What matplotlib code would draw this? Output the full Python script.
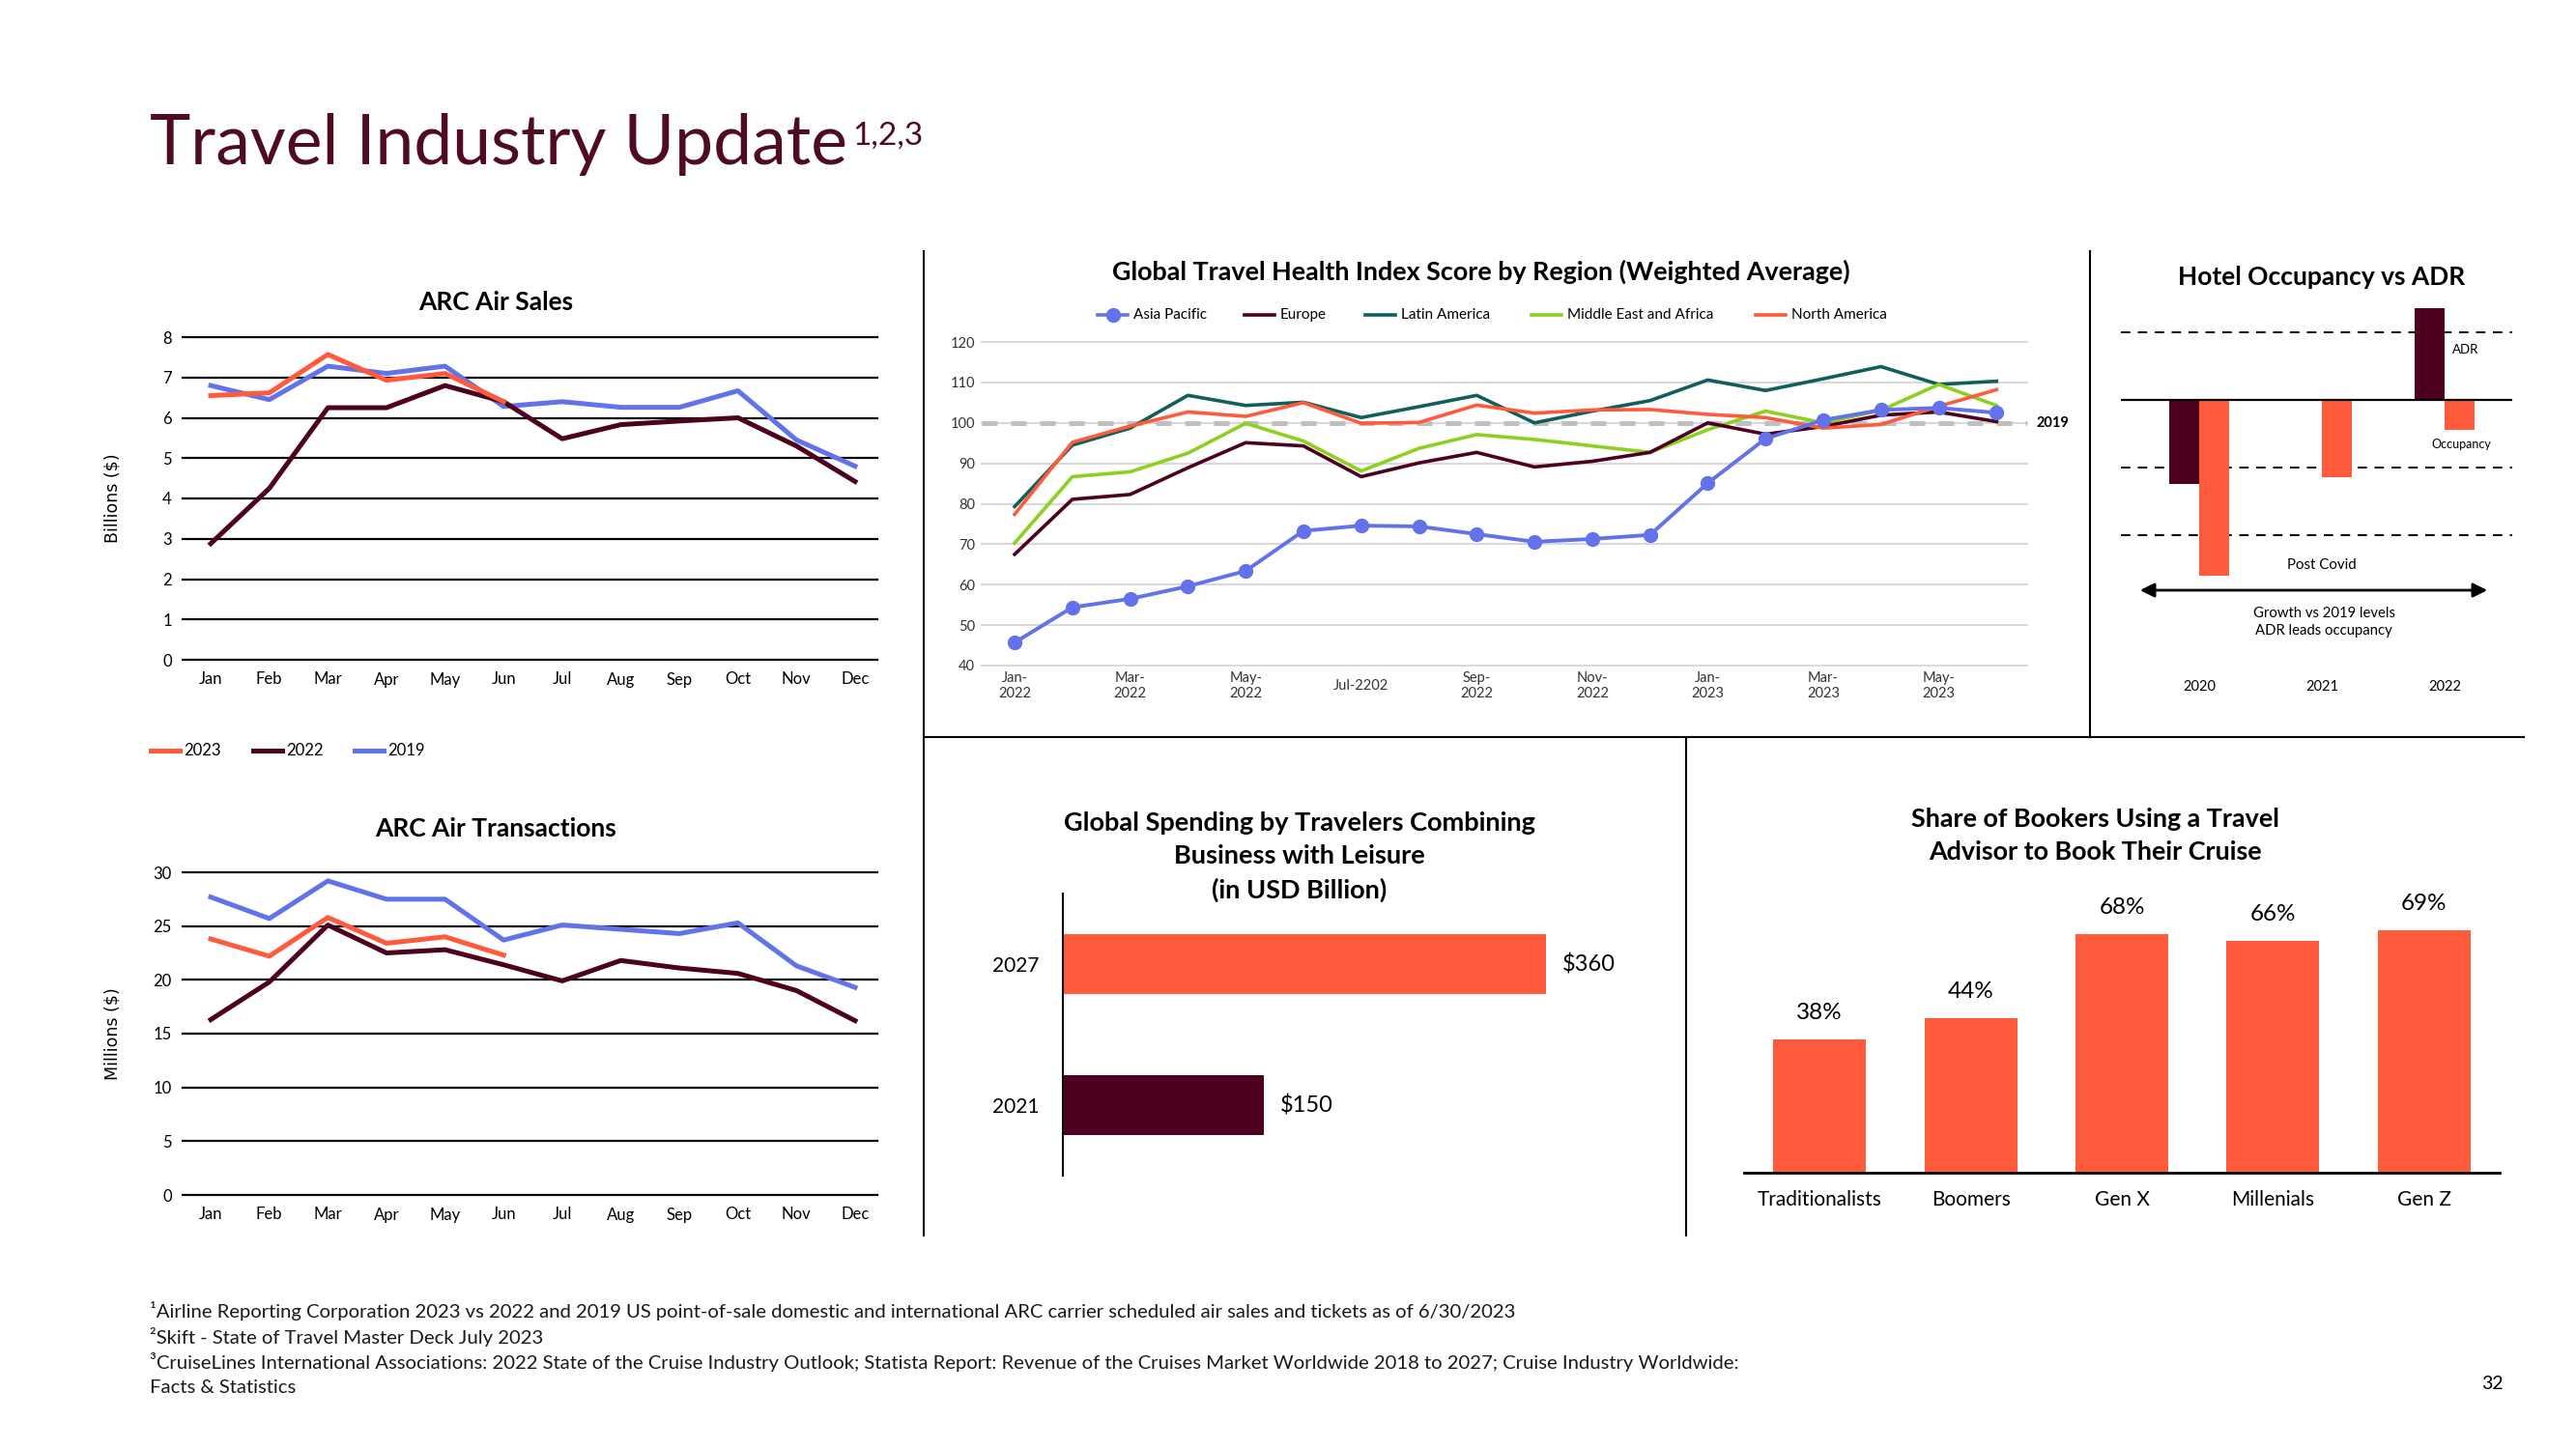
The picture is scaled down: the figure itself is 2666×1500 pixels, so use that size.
import matplotlib
matplotlib.use("Agg")
import matplotlib.pyplot as plt
from matplotlib.lines import Line2D
from matplotlib.transforms import blended_transform_factory

plt.rcParams['font.family'] = ['Lato', 'DejaVu Sans']

W, H = 2666, 1500
TITLE = '#4F0A24'
MAROON = '#4D0020'
ORANGE = '#FF5A3C'
BLUE = '#6272EA'
TEAL = '#115E5F'
LIME = '#8DD01F'

# ARC air sales / transactions
months = ['Jan', 'Feb', 'Mar', 'Apr', 'May', 'Jun', 'Jul', 'Aug', 'Sep', 'Oct', 'Nov', 'Dec']
sales_2023 = [6.55, 6.62, 7.57, 6.93, 7.10, 6.40]
sales_2022 = [2.88, 4.25, 6.25, 6.25, 6.80, 6.40, 5.48, 5.83, 5.92, 6.00, 5.30, 4.42]
sales_2019 = [6.80, 6.45, 7.28, 7.10, 7.28, 6.28, 6.40, 6.26, 6.26, 6.67, 5.45, 4.80]
trans_2023 = [23.8, 22.2, 25.8, 23.4, 24.0, 22.3]
trans_2022 = [16.3, 19.8, 25.1, 22.5, 22.8, 21.4, 19.9, 21.8, 21.1, 20.6, 19.0, 16.2]
trans_2019 = [27.7, 25.7, 29.2, 27.5, 27.5, 23.7, 25.1, 24.7, 24.3, 25.3, 21.3, 19.3]

# travel health index, Jan-2022 .. Jun-2023
hi_ticks = [0, 2, 4, 6, 8, 10, 12, 14, 16]
hi_labels = ['Jan-\n2022', 'Mar-\n2022', 'May-\n2022', 'Jul-2202', 'Sep-\n2022',
             'Nov-\n2022', 'Jan-\n2023', 'Mar-\n2023', 'May-\n2023']
asia = [45.7, 54.4, 56.5, 59.6, 63.4, 73.3, 74.6, 74.4, 72.5, 70.6, 71.3, 72.3, 85.1, 96.1, 100.7, 103.2, 103.7, 102.5]
europe = [67.5, 81.1, 82.3, 88.9, 95.1, 94.3, 86.7, 90.1, 92.7, 89.1, 90.5, 92.7, 100.0, 97.2, 99.1, 101.9, 102.7, 100.3]
latin = [79.3, 94.5, 98.7, 106.8, 104.3, 105.1, 101.3, 104.0, 106.8, 100.0, 102.9, 105.5, 110.6, 108.0, 110.9, 113.9, 109.5, 110.3]
mea = [70.3, 86.7, 87.9, 92.5, 99.9, 95.5, 88.1, 93.7, 97.1, 95.9, 94.3, 92.7, 98.3, 102.9, 100.0, 103.1, 109.5, 104.3]
north = [77.4, 95.2, 99.2, 102.7, 101.6, 105.0, 99.9, 100.1, 104.4, 102.4, 103.2, 103.3, 102.1, 101.3, 98.7, 99.6, 104.1, 108.2]

# hotel occupancy vs ADR (growth vs 2019, %)
hotel_years = ['2020', '2021', '2022']
adr_growth = [-25, 0, 27]
occ_growth = [-52, -23, -9]
ref_levels = [20, -20, -40]

# bleisure spending
spend_years = ['2021', '2027']
spend_values = [150, 360]

# share of bookers using an advisor
generations = ['Traditionalists', 'Boomers', 'Gen X', 'Millenials', 'Gen Z']
share_pct = [38, 44, 68, 66, 69]

fig = plt.figure(figsize=(W / 100, H / 100), dpi=100)


def px_axes(x0, y0, x1, y1):
    return fig.add_axes([x0 / W, 1 - y1 / H, (x1 - x0) / W, (y1 - y0) / H])


def ftext(x, y, s, **kw):
    return fig.text(x / W, 1 - y / H, s, **kw)


def fline(x0, y0, x1, y1, **kw):
    fig.add_artist(Line2D([x0 / W, x1 / W], [1 - y0 / H, 1 - y1 / H],
                          transform=fig.transFigure, **kw))


# page title
t = ftext(155, 170, 'Travel Industry Update', fontsize=51.5, color=TITLE, va='baseline')
fig.canvas.draw()
bb = t.get_window_extent()
fig.text((bb.x1 + 5) / W, 1 - 150 / H, '1,2,3', fontsize=24, color=TITLE, va='baseline')

# panel separators
fline(956, 260, 956, 1279, color='black', lw=1.5)
fline(956, 763, 2612, 763, color='black', lw=1.5)
fline(2163, 260, 2163, 763, color='black', lw=1.5)
fline(1745, 763, 1745, 1279, color='black', lw=1.5)


def arc_chart(rect, ymax, ystep, s23, s22, s19, ylabel):
    ax = px_axes(*rect)
    ax.plot(range(len(s19)), s19, color=BLUE, lw=3.6, zorder=3)
    ax.plot(range(len(s22)), s22, color=MAROON, lw=3.6, zorder=4)
    ax.plot(range(len(s23)), s23, color=ORANGE, lw=3.6, zorder=5)
    ax.set_xlim(-0.48, 11.38)
    ax.set_ylim(0, ymax)
    ticks = list(range(0, ymax + 1, ystep))
    for v in ticks:
        ax.axhline(v, color='black', lw=1.6, zorder=1, clip_on=False)
    ax.set_yticks(ticks)
    ax.set_xticks(range(12), months)
    ax.tick_params(length=0, labelsize=12)
    ax.tick_params(axis='y', pad=8)
    ax.tick_params(axis='x', pad=9)
    for s in ax.spines.values():
        s.set_visible(False)
    ax.set_ylabel(ylabel, fontsize=12.5, family=['DejaVu Sans'])
    ax.yaxis.set_label_coords(-0.088, 0.5)
    return ax


arc_chart((189, 349, 908, 683), 8, 1, sales_2023, sales_2022, sales_2019, 'Billions ($)')
ftext(513, 313, 'ARC Air Sales', fontsize=19, fontweight='bold', ha='center', va='center')
arc_chart((189, 903, 908, 1237), 30, 5, trans_2023, trans_2022, trans_2019, 'Millions ($)')
ftext(513, 858, 'ARC Air Transactions', fontsize=19, fontweight='bold', ha='center', va='center')

# ARC legend
for lab, col, x in [('2023', ORANGE, 156), ('2022', MAROON, 262), ('2019', BLUE, 367)]:
    fline(x, 777, x + 30, 777, color=col, lw=3.6)
    ftext(x + 34, 777, lab, fontsize=12, va='center')

# travel health index
ax = px_axes(1016, 354, 2098, 689)
for v in range(40, 121, 10):
    ax.axhline(v, color='#D9D9D9', lw=1.5, zorder=0, clip_on=False)
ax.axhline(100, color='#BFBFBF', lw=3.6, dashes=(3.2, 2.8), zorder=1)
xs = range(len(asia))
ax.plot(xs, latin, color=TEAL, lw=2.6, zorder=2)
ax.plot(xs, mea, color=LIME, lw=2.6, zorder=3)
ax.plot(xs, europe, color=MAROON, lw=2.6, zorder=4)
ax.plot(xs, north, color=ORANGE, lw=2.6, zorder=5)
ax.plot(xs, asia, color=BLUE, lw=2.8, marker='o', markersize=10, zorder=6)
ax.set_xlim(-0.57, 17.53)
ax.set_ylim(40, 120)
ax.set_yticks(range(40, 121, 10))
ax.set_xticks(hi_ticks, hi_labels)
for lbl in ax.get_xticklabels():
    lbl.set_va('center')
ax.tick_params(length=0, labelsize=10.5, labelcolor='#333333')
ax.tick_params(axis='x', pad=15)
ax.tick_params(axis='y', pad=5)
for s in ax.spines.values():
    s.set_visible(False)
ax.text(1.009, 100, '2019', transform=blended_transform_factory(ax.transAxes, ax.transData),
        fontsize=10.5, fontweight='bold', va='center')
ftext(1533, 281, 'Global Travel Health Index Score by Region (Weighted Average)',
      fontsize=19.4, fontweight='bold', ha='center', va='center')
for lab, col, x in [('Asia Pacific', BLUE, 1136), ('Europe', MAROON, 1288),
                    ('Latin America', TEAL, 1413), ('Middle East and Africa', LIME, 1585),
                    ('North America', ORANGE, 1817)]:
    fline(x, 326, x + 31, 326, color=col, lw=2.6)
    if lab == 'Asia Pacific':
        fig.add_artist(Line2D([(x + 15.5) / W], [1 - 326 / H], transform=fig.transFigure,
                              marker='o', markersize=10, color=col))
    ftext(x + 37, 326, lab, fontsize=11, va='center')

# hotel occupancy vs ADR
ax = px_axes(2195, 300, 2600, 730)
hx = range(len(hotel_years))
w = 0.245
ax.bar([i - w / 2 for i in hx], adr_growth, width=w, color=MAROON, zorder=2)
ax.bar([i + w / 2 for i in hx], occ_growth, width=w, color=ORANGE, zorder=2)
for v in ref_levels:
    ax.axhline(v, color='black', lw=1.4, dashes=(5, 4), zorder=1)
ax.axhline(0, color='black', lw=1.6, zorder=3)
ax.set_xlim(-0.638, 2.551)
ax.set_ylim(-90.29, 32.57)
ax.axis('off')
bt = blended_transform_factory(ax.transData, ax.transAxes)
for i, yr in enumerate(hotel_years):
    ax.text(i, 0.044, yr, transform=bt, fontsize=10.5, ha='center', va='center')
ftext(2403, 287, 'Hotel Occupancy vs ADR', fontsize=19, fontweight='bold', ha='center', va='center')
ftext(2538, 362, 'ADR', fontsize=9.5, va='center')
ftext(2547, 460, 'Occupancy', fontsize=9, ha='center', va='center')
ftext(2403, 585, 'Post Covid', fontsize=10.8, ha='center', va='center')
ftext(2405, 644, 'Growth vs 2019 levels\nADR leads occupancy', fontsize=10.7,
      ha='center', va='center', linespacing=1.4)
fig.add_artist(matplotlib.patches.FancyArrowPatch(
    (2212 / W, 1 - 611 / H), (2577 / W, 1 - 611 / H), transform=fig.transFigure,
    arrowstyle='<|-|>', mutation_scale=22, color='black', lw=2))

# bleisure spending
ax = px_axes(1100, 925, 1700, 1217)
bars = ax.barh(range(len(spend_years)), spend_values, height=0.43, color=[MAROON, ORANGE])
for b, v in zip(bars, spend_values):
    ax.annotate(f'${v}', (v, b.get_y() + b.get_height() / 2), xytext=(12, 0),
                textcoords='offset points', fontsize=17, va='center')
ax.set_xlim(0, 432)
ax.set_ylim(-0.5, 1.5)
ax.set_yticks(range(len(spend_years)), spend_years)
ax.set_xticks([])
ax.tick_params(length=0, labelsize=15, pad=18)
for k in ['top', 'right', 'bottom']:
    ax.spines[k].set_visible(False)
ax.spines['left'].set_linewidth(1.5)
ftext(1345, 887, 'Global Spending by Travelers Combining\nBusiness with Leisure\n(in USD Billion)',
      fontsize=19.5, fontweight='bold', ha='center', va='center', linespacing=1.5)

# share of bookers
ax = px_axes(1805, 900, 2587, 1214)
bars = ax.bar(range(len(generations)), share_pct, width=0.615, color=ORANGE)
for b, v in zip(bars, share_pct):
    ax.annotate(f'{v}%', (b.get_x() + b.get_width() / 2, v), xytext=(0, 20),
                textcoords='offset points', fontsize=17.5, ha='center', va='center')
ax.set_xlim(-0.5, 4.5)
ax.set_ylim(0, 86.4)
ax.set_xticks(range(len(generations)), generations)
ax.set_yticks([])
ax.tick_params(length=0, labelsize=15, pad=13)
for k in ['top', 'right', 'left']:
    ax.spines[k].set_visible(False)
ax.spines['bottom'].set_linewidth(2)
ftext(2168, 865, 'Share of Bookers Using a Travel\nAdvisor to Book Their Cruise',
      fontsize=19.4, fontweight='bold', ha='center', va='center', linespacing=1.5)

# footnotes
notes = ['¹Airline Reporting Corporation 2023 vs 2022 and 2019 US point-of-sale domestic and international ARC carrier scheduled air sales and tickets as of 6/30/2023',
         '²Skift - State of Travel Master Deck July 2023',
         '³CruiseLines International Associations: 2022 State of the Cruise Industry Outlook; Statista Report: Revenue of the Cruises Market Worldwide 2018 to 2027; Cruise Industry Worldwide:',
         'Facts & Statistics']
for y, s in zip([1357, 1384, 1410, 1437], notes):
    ftext(155, y, s, fontsize=14.6, va='center', color='#1A1A1A')
ftext(2579, 1433, '32', fontsize=14, ha='center', va='center')

fig.savefig('out.png', dpi=100)
